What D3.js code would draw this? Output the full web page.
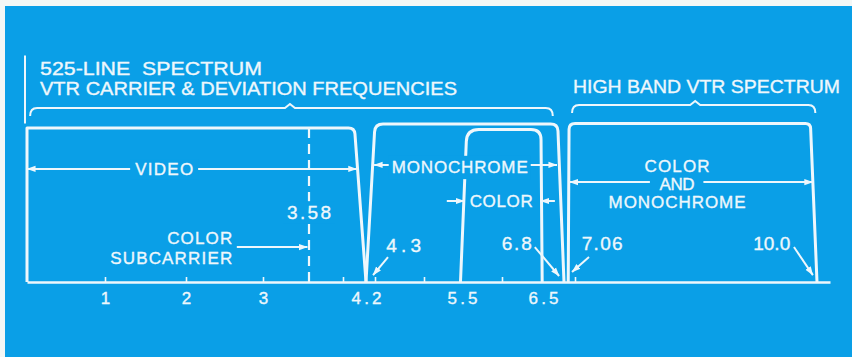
<!DOCTYPE html>
<html lang="en">
<head>
<meta charset="utf-8">
<title>VTR Spectrum</title>
<style>
  body { margin: 0; background: #f3f7f6; }
  svg { display: block; }
  .ink { stroke: #eef7fc; fill: none; }
  text { fill: #eef7fc; stroke: #eef7fc; stroke-width: 0.35px; font-family: "Liberation Sans", Arial, sans-serif; }
</style>
<script src="https://cdn.jsdelivr.net/npm/d3@7"></script>
</head>
<body>
<svg id="chart" width="852" height="357"></svg>
<script>
// ---- data (frequencies in MHz, levels relative to full carrier) ----
var axisValues = [1, 2, 3, 4.2, 5.5, 6.5];
var axisLabels = ["1", "2", "3", "4.2", "5.5", "6.5"];
var minorTicks = [1, 2, 3, 4, 4.3, 5, 6, 7.06];

var bandNames = ["video", "monochrome", "color", "highBand"];
// foot left, shoulder left, shoulder right, foot right
var bandEdges = [
  [0, 0, 4.1, 4.2],
  [4.2, 4.3, 6.71, 6.8],
  [5.48, 5.56, 6.475, 6.49],
  [6.9, 6.92, 9.92, 10.0]
];
var bandLevels = [1.0, 1.026, 0.99, 1.03];
var subcarrier = 3.58;

var calloutLabels = ["4.3", "6.8", "7.06", "10.0"];
var calloutTips = [4.278, 6.73, 6.99, 9.95];

var titleLeft = ["525-LINE  SPECTRUM", "VTR CARRIER & DEVIATION FREQUENCIES"];
var titleRight = "HIGH BAND VTR SPECTRUM";

// ---- layout ----
var svg = d3.select("#chart");
var INK = "#eef7fc";
var BLUE = "#0a9fe7";

svg.append("rect").attr("x", 5).attr("y", 6).attr("width", 847).attr("height", 351)
  .attr("fill", BLUE);

// the drawing is schematic, so the frequency axis is stretched piece by piece
var x = d3.scaleLinear()
  .domain([0, 1, 2, 3, 3.58, 4, 4.2, 4.3, 5, 5.5, 6, 6.5, 6.8, 7.06, 10, 10.25])
  .range([27, 105, 186, 263, 309, 343, 366, 375, 424, 462, 502, 543, 564, 575, 817, 830]);
var y = d3.scaleLinear().domain([0, 1]).range([282, 128]);

var defs = svg.append("defs");
defs.append("marker").attr("id", "head")
  .attr("viewBox", "0 0 10 10").attr("refX", 9.5).attr("refY", 5)
  .attr("markerWidth", 9).attr("markerHeight", 9)
  .attr("markerUnits", "userSpaceOnUse").attr("orient", "auto-start-reverse")
  .append("path").attr("d", "M0,1.5 L10,5 L0,8.5 Z").attr("fill", INK);

// polyline with rounded corners
function roundedPath(pts, radii) {
  var d = "M" + pts[0][0] + "," + pts[0][1];
  for (var i = 1; i < pts.length - 1; i++) {
    var p = pts[i], a = pts[i - 1], b = pts[i + 1], r = radii[i - 1];
    var la = Math.hypot(a[0] - p[0], a[1] - p[1]), lb = Math.hypot(b[0] - p[0], b[1] - p[1]);
    var p1 = [p[0] + (a[0] - p[0]) * r / la, p[1] + (a[1] - p[1]) * r / la];
    var p2 = [p[0] + (b[0] - p[0]) * r / lb, p[1] + (b[1] - p[1]) * r / lb];
    d += " L" + p1[0] + "," + p1[1] + " Q" + p[0] + "," + p[1] + " " + p2[0] + "," + p2[1];
  }
  var last = pts[pts.length - 1];
  return d + " L" + last[0] + "," + last[1];
}

var cornerRadius = { video: [0, 6], monochrome: [8, 7], color: [12, 10], highBand: [6, 5] };

// bands
svg.append("g").selectAll("path")
  .data(bandNames)
  .enter().append("path")
  .attr("class", "ink")
  .attr("stroke-width", 3)
  .attr("stroke-linejoin", "round")
  .attr("d", function (name, i) {
    var e = bandEdges[i], L = bandLevels[i];
    var pts = [[x(e[0]), y(0)], [x(e[1]), y(L)], [x(e[2]), y(L)], [x(e[3]), y(0)]];
    return roundedPath(pts, cornerRadius[name]);
  });

// colour subcarrier marker
svg.append("line").attr("class", "ink")
  .attr("x1", x(subcarrier)).attr("x2", x(subcarrier))
  .attr("y1", y(1)).attr("y2", y(0))
  .attr("stroke-width", 2.2).attr("stroke-dasharray", "10,6");

// stray paste-up rule at the left
svg.append("line").attr("class", "ink")
  .attr("x1", x(0) - 2).attr("x2", x(0) - 2)
  .attr("y1", y(1.47)).attr("y2", y(1.03)).attr("stroke-width", 2);

// axis
var axis = svg.append("g").attr("transform", "translate(0," + y(0) + ")")
  .call(d3.axisBottom(x).tickValues(axisValues)
    .tickFormat(function (d, i) { return axisLabels[i]; })
    .tickSize(0).tickPadding(10));
axis.attr("font-size", null).attr("font-family", null);
axis.select(".domain").attr("stroke", INK).attr("stroke-width", 2.5);
axis.selectAll("text")
  .style("font-size", "17px")
  .style("fill", INK)
  .each(function (d, i) {
    if (axisLabels[i].length > 1) d3.select(this).attr("textLength", 30).attr("lengthAdjust", "spacing");
  });

var minor = svg.append("g").attr("transform", "translate(0," + y(0) + ")")
  .call(d3.axisTop(x).tickValues(minorTicks).tickSize(5).tickFormat(""));
minor.select(".domain").remove();
minor.selectAll("line").attr("stroke", INK).attr("stroke-width", 1.6);

// braces
function brace(f0, f1, fPeak, lvl) {
  var x0 = x(f0), x1 = x(f1), xp = x(fPeak), yl = y(lvl);
  return "M" + x0 + "," + (yl + 8) + " Q" + x0 + "," + yl + " " + (x0 + 7) + "," + yl +
    " L" + (xp - 5) + "," + yl + " L" + xp + "," + (yl - 4) + " L" + (xp + 5) + "," + yl +
    " L" + (x1 - 7) + "," + yl + " Q" + x1 + "," + yl + " " + x1 + "," + (yl + 8);
}
svg.append("path").attr("class", "ink").attr("stroke-width", 2).attr("d", brace(0.04, 6.64, 3.34, 1.13));
svg.append("path").attr("class", "ink").attr("stroke-width", 2).attr("d", brace(6.99, 9.98, 8.52, 1.149));

// arrows [from, to] in (MHz, level); both = heads at both ends
var arrows = [
  { p: [[0, 0.734], [4.12, 0.734]], both: true },
  { p: [[4.29, 0.76], [6.7, 0.76]], both: true },
  { p: [[5.3, 0.526], [5.53, 0.526]] },
  { p: [[6.67, 0.526], [6.47, 0.526]] },
  { p: [[7.97, 0.649], [6.93, 0.649]] },
  { p: [[8.62, 0.649], [9.95, 0.649]] },
  { p: [[2.66, 0.227], [3.56, 0.227]] },
  { p: [[4.486, 0.162], [calloutTips[0], 0.045]] },
  { p: [[6.40, 0.227], [calloutTips[1], 0.039]] },
  { p: [[7.23, 0.162], [calloutTips[2], 0.065]] },
  { p: [[9.72, 0.227], [calloutTips[3], 0.045]] }
];
svg.append("g").selectAll("line")
  .data(arrows)
  .enter().append("line")
  .attr("class", "ink").attr("stroke-width", 2)
  .attr("x1", function (d) { return x(d.p[0][0]); })
  .attr("y1", function (d) { return y(d.p[0][1]); })
  .attr("x2", function (d) { return x(d.p[1][0]); })
  .attr("y2", function (d) { return y(d.p[1][1]); })
  .attr("marker-end", "url(#head)")
  .attr("marker-start", function (d) { return d.both ? "url(#head)" : null; });

// labels: text, centre MHz, baseline level, width, anchor, size, knockout padding
var labels = [
  { t: "VIDEO", f: 1.73, l: 0.695, w: 58, ko: [5, 3] },
  { t: "MONOCHROME", f: 5.47, l: 0.708, w: 136, ko: [3, 5] },
  { t: "COLOR", f: 5.99, l: 0.487, w: 63 },
  { t: "COLOR", f: 8.30, l: 0.714, w: 65 },
  { t: "AND", f: 8.30, l: 0.597, w: 35 },
  { t: "MONOCHROME", f: 8.30, l: 0.48, w: 137 },
  { t: "3.58", f: subcarrier, l: 0.409, w: 44, s: 19, ko: [4, 4] },
  { t: "COLOR", f: 2.60, l: 0.247, w: 65, a: "end" },
  { t: "SUBCARRIER", f: 2.60, l: 0.117, w: 122, a: "end" },
  { t: calloutLabels[0], f: 4.71, l: 0.195, w: 35, s: 19 },
  { t: calloutLabels[1], f: 6.18, l: 0.208, w: 30, s: 19 },
  { t: calloutLabels[2], f: 7.39, l: 0.208, w: 41, s: 19 },
  { t: calloutLabels[3], f: 9.45, l: 0.208, w: 37, s: 19 }
];
var lab = svg.append("g").selectAll("g")
  .data(labels)
  .enter().append("g");
lab.append("text")
  .attr("x", function (d) { return x(d.f); })
  .attr("y", function (d) { return y(d.l); })
  .attr("text-anchor", function (d) { return d.a || "middle"; })
  .attr("font-size", function (d) { return d.s || 17; })
  .attr("textLength", function (d) { return d.w; })
  .attr("lengthAdjust", "spacing")
  .text(function (d) { return d.t; });
lab.each(function (d) {
  if (!d.ko) return;
  var g = d3.select(this), bb = g.select("text").node().getBBox();
  g.insert("rect", "text")
    .attr("x", bb.x - d.ko[0]).attr("y", bb.y + bb.height * 0.15 - d.ko[1])
    .attr("width", bb.width + 2 * d.ko[0]).attr("height", bb.height * 0.7 + 2 * d.ko[1])
    .attr("fill", BLUE).attr("stroke", "none");
});

// titles
svg.append("text").attr("x", 40).attr("y", 75).attr("font-size", 19)
  .attr("textLength", 222).attr("lengthAdjust", "spacingAndGlyphs")
  .style("white-space", "pre").text(titleLeft[0]);
svg.append("text").attr("x", 40).attr("y", 95).attr("font-size", 19)
  .attr("textLength", 417).attr("lengthAdjust", "spacingAndGlyphs").text(titleLeft[1]);
svg.append("text").attr("x", 573).attr("y", 93).attr("font-size", 19)
  .attr("textLength", 267).attr("lengthAdjust", "spacingAndGlyphs").text(titleRight);
</script>
</body>
</html>
